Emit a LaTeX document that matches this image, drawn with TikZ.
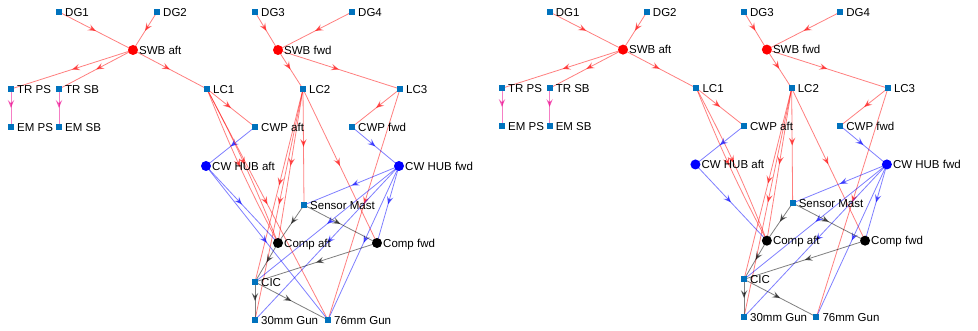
\documentclass[tikz,border=0pt]{standalone}
\usepackage{fontspec}
\setmainfont{Liberation Sans}
\usetikzlibrary{arrows.meta,decorations.markings,backgrounds}
\definecolor{matblue}{RGB}{0,114,189}
\tikzset{
  sq/.style={rectangle,fill=matblue,minimum size=6pt,inner sep=0pt,draw=none},
  bigred/.style={circle,fill=red,minimum size=10pt,inner sep=0pt,draw=none},
  bigblue/.style={circle,fill=blue,minimum size=10pt,inner sep=0pt,draw=none},
  bigblack/.style={circle,fill=black,minimum size=10pt,inner sep=0pt,draw=none},
  lbl/.style={font=\fontsize{11.5}{13}\selectfont,inner sep=0pt,anchor=base west},
  edgebase/.style={line width=0.8pt,opacity=0.5,postaction={decorate},
    decoration={markings,mark=at position 0.5 with {\arrow{Stealth[length=8pt,width=6.5pt,inset=3pt]}}}},
  pw/.style={edgebase,draw=red},
  cw/.style={edgebase,draw=blue},
  dt/.style={edgebase,draw=black},
  mg/.style={edgebase,draw=magenta},
}
\newcommand\pn[4]{\node[#1] (#2) at (#3) {};
  \node[lbl] (#2-t) at ([xshift=6pt,yshift=-4.3pt]#2.center) {#4};}
\newcommand\ed[3]{\draw[#1] (#2.center) -- (#3.center);}
\newcommand\shipnodes[1]{%
  \pn{sq}{#1dg1}{59,12}{DG1}
  \pn{sq}{#1dg2}{157,12}{DG2}
  \pn{sq}{#1dg3}{255,12}{DG3}
  \pn{sq}{#1dg4}{352,12}{DG4}
  \pn{bigred}{#1swba}{133,50}{SWB aft}
  \pn{bigred}{#1swbf}{278,50}{SWB fwd}
  \pn{sq}{#1trps}{11,89}{TR PS}
  \pn{sq}{#1trsb}{59,89}{TR SB}
  \pn{sq}{#1lc1}{207,89}{LC1}
  \pn{sq}{#1lc2}{303,89}{LC2}
  \pn{sq}{#1lc3}{400,89}{LC3}
  \pn{sq}{#1emps}{11,127}{EM PS}
  \pn{sq}{#1emsb}{59,127}{EM SB}
  \pn{sq}{#1cwpa}{255,127}{CWP aft}
  \pn{sq}{#1cwpf}{352,127}{CWP fwd}
  \pn{bigblue}{#1cwha}{206,166}{CW HUB aft}
  \pn{bigblue}{#1cwhf}{399,166}{CW HUB fwd}
  \pn{sq}{#1sm}{304,205}{Sensor Mast}
  \pn{bigblack}{#1compa}{278,243}{Comp aft}
  \pn{bigblack}{#1compf}{377,243}{Comp fwd}
  \pn{sq}{#1cic}{255,282}{CIC}
  \pn{sq}{#1gta}{255,320}{30mm Gun}
  \pn{sq}{#1gsf}{328,320}{76mm Gun}
}
\newcommand\shipedges[1]{%
  \ed{pw}{#1dg1}{#1swba}\ed{pw}{#1dg2}{#1swba}
  \ed{pw}{#1dg3}{#1swbf}\ed{pw}{#1dg4}{#1swbf}
  \ed{pw}{#1swba}{#1trps}\ed{pw}{#1swba}{#1trsb}\ed{pw}{#1swba}{#1lc1}
  \ed{pw}{#1swbf}{#1lc2}\ed{pw}{#1swbf}{#1lc3}
  \ed{mg}{#1trps}{#1emps}\ed{mg}{#1trsb}{#1emsb}
  \ed{pw}{#1lc1}{#1cwpa}
  \draw[pw] (#1lc1.center) to[bend left=3] (#1compa.center);
  \draw[pw] (#1lc1.center) to[bend right=3] (#1compa.center);
  \ed{pw}{#1lc2}{#1sm}\ed{pw}{#1lc2}{#1compf}\ed{pw}{#1lc2}{#1compa}
  \ed{pw}{#1lc2}{#1cic}\ed{pw}{#1lc2}{#1gta}
  \ed{pw}{#1lc3}{#1cwpf}\ed{pw}{#1lc3}{#1gsf}
  \ed{cw}{#1cwpa}{#1cwha}\ed{cw}{#1cwpf}{#1cwhf}
  \ed{cw}{#1cwha}{#1compa}
  \ed{cw}{#1cwhf}{#1sm}\ed{cw}{#1cwhf}{#1compf}\ed{cw}{#1cwhf}{#1cic}
  \ed{cw}{#1cwhf}{#1gta}\ed{cw}{#1cwhf}{#1gsf}
  \ed{dt}{#1sm}{#1compa}\ed{dt}{#1sm}{#1compf}
  \ed{dt}{#1compa}{#1cic}\ed{dt}{#1compf}{#1cic}
  \ed{dt}{#1cic}{#1gta}\ed{dt}{#1cic}{#1gsf}
}
\begin{document}
\begin{tikzpicture}[x=1pt,y=-1pt]
\useasboundingbox (0,0) rectangle (978,331);
\shipnodes{L}
\begin{scope}[shift={(502,12)},xscale=0.992,yscale=0.99,shift={(-11,-12)}]
\shipnodes{R}
\end{scope}
\begin{scope}[on background layer]
\shipedges{L}
\ed{pw}{Llc1}{Lgsf}
\ed{cw}{Lcwha}{Lgsf}
\shipedges{R}
\end{scope}
\end{tikzpicture}
\end{document}
